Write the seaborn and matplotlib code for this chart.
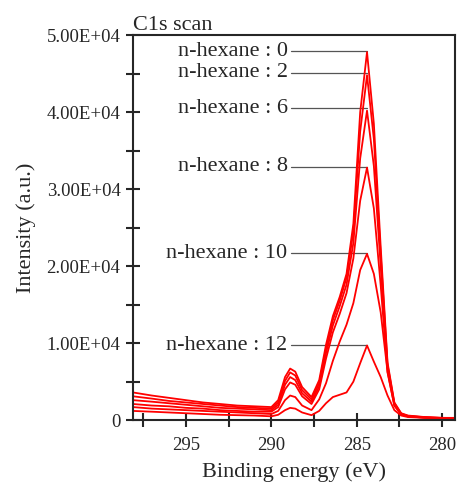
import seaborn as sns
import matplotlib.pyplot as plt
import pandas as pd
from matplotlib.ticker import MultipleLocator, FuncFormatter

# binding energy (eV) and C1s intensity
energy = [298.1, 297, 296, 295, 294, 293, 292, 291, 290, 289.6, 289.2, 288.9, 288.6, 288.2, 287.65,
          287.2, 286.8, 286.4, 286.0, 285.6, 285.2, 284.8, 284.4, 284.0, 283.6, 283.2, 282.8, 282.4,
          282.0, 281, 280, 279.2]
n0 = [3600, 3200, 2900, 2600, 2300, 2100, 1900, 1800, 1700, 2600, 5600, 6700, 6300, 4300, 3000,
      5200, 9800, 13500, 16000, 19000, 25500, 40000, 47800, 38500, 22500, 7500, 2300, 900,
      600, 400, 300, 300]
n2 = [3100, 2800, 2500, 2300, 2100, 1900, 1700, 1600, 1500, 2300, 5100, 6200, 5800, 3900, 2700,
      4800, 9300, 13000, 15500, 18500, 24500, 37500, 44800, 36500, 21500, 7200, 2200, 850,
      550, 380, 300, 280]
n6 = [2600, 2400, 2200, 2000, 1800, 1600, 1500, 1400, 1300, 2000, 4600, 5600, 5200, 3500, 2400,
      4400, 8700, 12300, 14800, 17600, 23000, 34000, 40200, 33000, 20000, 6800, 2100, 800,
      520, 360, 280, 260]
n8 = [2100, 1900, 1800, 1600, 1500, 1300, 1200, 1100, 1100, 1700, 4000, 4900, 4600, 3100, 2100,
      4000, 8000, 11400, 13800, 16500, 21000, 28500, 32800, 27500, 17500, 6200, 1900, 750,
      480, 330, 260, 240]
n10 = [1700, 1500, 1400, 1300, 1200, 1100, 1000, 900, 800, 1200, 2600, 3200, 3000, 1900, 1300,
       2700, 4800, 7700, 10200, 12400, 15200, 19500, 21600, 19000, 14000, 6300, 1900, 750,
       480, 320, 250, 230]
n12 = [1200, 1100, 1000, 900, 800, 700, 650, 600, 500, 700, 1300, 1600, 1500, 1000, 650,
       1200, 2200, 3000, 3300, 3600, 5000, 7400, 9700, 7600, 5600, 3200, 1300, 600,
       400, 300, 230, 210]

series = [n0, n2, n6, n8, n10, n12]
labels = ['n-hexane : 0', 'n-hexane : 2', 'n-hexane : 6', 'n-hexane : 8', 'n-hexane : 10', 'n-hexane : 12']
label_y = [47900, 45100, 40500, 32900, 21700, 9700]
peak_e = 284.4
text_e = 288.85

df = pd.concat([pd.DataFrame({'energy': energy, 'intensity': s, 'sample': lab})
                for s, lab in zip(series, labels)])

sns.set_style('ticks')
plt.rcParams['font.family'] = ['Liberation Serif', 'DejaVu Serif']

fig = plt.figure(figsize=(4.57, 4.88), dpi=100)
ax = fig.add_axes([0.291, 0.139, 0.705, 0.789])

for lab in labels:
    sns.lineplot(data=df[df['sample'] == lab], x='energy', y='intensity', color='#ff0000',
                 linewidth=1.3, ax=ax, sort=False)

for lab, yv in zip(labels, label_y):
    ax.plot([text_e, peak_e], [yv, yv], color='#555555', linewidth=0.9, zorder=1)
    ax.text(text_e + 0.2, yv, lab, ha='right', va='center', fontsize=16)

ax.set_xlim(298.1, 279.24)
ax.set_ylim(0, 50000)
ax.xaxis.set_major_locator(MultipleLocator(5))
ax.xaxis.set_minor_locator(MultipleLocator(2.5))
ax.yaxis.set_major_locator(MultipleLocator(10000))
ax.yaxis.set_minor_locator(MultipleLocator(5000))
ax.yaxis.set_major_formatter(FuncFormatter(lambda v, p: '0' if v == 0 else f'{v:.2E}'))
ax.tick_params(which='both', direction='inout', length=10, width=1.5, labelsize=13.5)
ax.tick_params(axis='x', which='both', pad=7)
ax.tick_params(axis='y', which='both', pad=4)
for sp in ax.spines.values():
    sp.set_linewidth(1.5)

ax.set_xlabel('Binding energy (eV)', fontsize=16, labelpad=6)
ax.set_ylabel('Intensity (a.u.)', fontsize=16, labelpad=8)
ax.set_title('C1s scan', loc='left', fontsize=16, pad=3)

fig.savefig('out.png', dpi=100)
